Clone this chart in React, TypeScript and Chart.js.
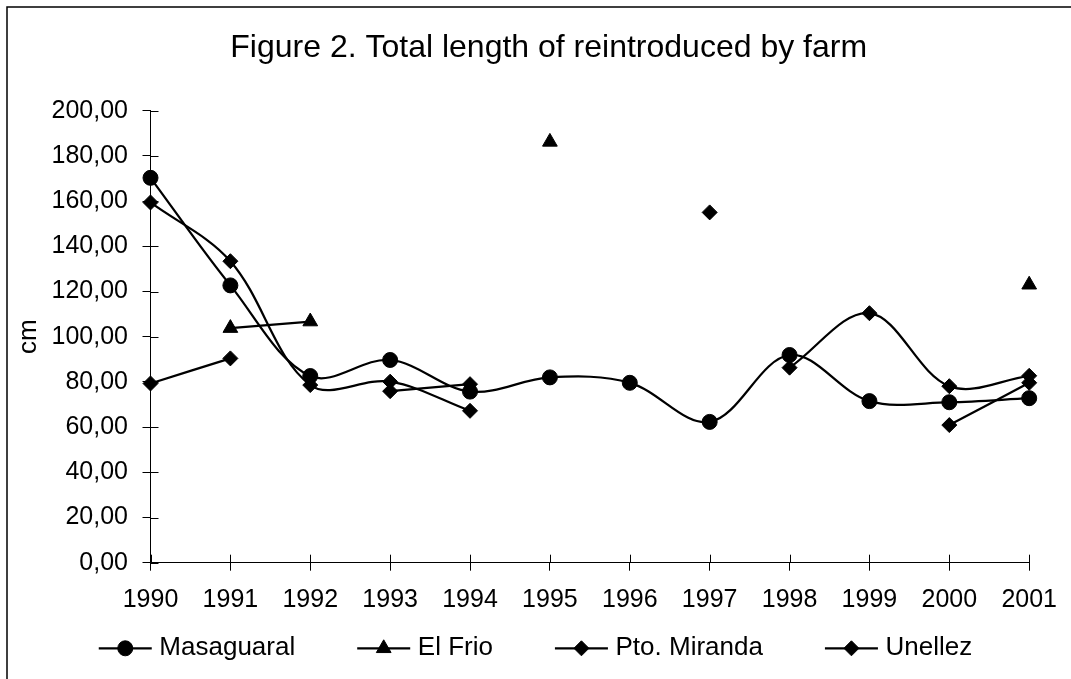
import React, { useEffect, useRef } from 'react';
import { Chart, registerables } from 'chart.js';

Chart.register(...registerables);

// ---------- data ----------
const years = ['1990', '1991', '1992', '1993', '1994', '1995', '1996', '1997', '1998', '1999', '2000', '2001'];
const masaguaral = [170.3, 122.7, 82.6, 89.7, 75.7, 82.0, 79.6, 62.3, 91.9, 71.5, 71.0, 72.8];
const elFrio = [null, 103.8, 106.7, null, null, 186.2, null, null, null, null, null, 123.0];
const ptoMiranda = [159.4, 133.4, 78.6, 80.1, 67.2, null, null, 155.0, null, null, 60.9, 79.6];
const unellez = [79.3, 90.4, null, 75.9, 79.0, null, null, null, 86.3, 110.4, 78.1, 82.7];
const seriesNames = ['Masaguaral', 'El Frio', 'Pto. Miranda', 'Unellez'];
const yMin = 0;
const yMax = 200;
const yStep = 20;
const titleText = 'Figure 2. Total length of reintroduced by farm';
const yAxisTitle = 'cm';

// ---------- styles ----------
const FONT = "'Liberation Sans', Arial, Helvetica, sans-serif";
const INK = '#000';

function drawMarker(ctx: CanvasRenderingContext2D, style: string, x: number, y: number, r: number) {
  ctx.beginPath();
  if (style === 'circle') {
    ctx.arc(x, y, r, 0, Math.PI * 2);
  } else if (style === 'triangle') {
    ctx.moveTo(x, y - r);
    ctx.lineTo(x + r * Math.sin((2 * Math.PI) / 3), y - r * Math.cos((2 * Math.PI) / 3));
    ctx.lineTo(x + r * Math.sin((4 * Math.PI) / 3), y - r * Math.cos((4 * Math.PI) / 3));
  } else {
    ctx.moveTo(x - r, y);
    ctx.lineTo(x, y - r);
    ctx.lineTo(x + r, y);
    ctx.lineTo(x, y + r);
  }
  ctx.closePath();
  ctx.fill();
  ctx.stroke();
}

const decorations = {
  id: 'decorations',
  beforeDatasetsDraw(chart: any) {
    const { ctx, chartArea, scales } = chart;
    ctx.save();
    ctx.strokeStyle = INK;
    ctx.lineWidth = 1;
    ctx.beginPath();
    const xs = scales.x;
    xs.ticks.forEach((_: any, i: number) => {
      const px = Math.round(xs.getPixelForTick(i)) + 0.5;
      ctx.moveTo(px, chartArea.bottom);
      ctx.lineTo(px, chartArea.bottom - 8);
    });
    const ys = scales.y;
    ys.ticks.forEach((_: any, i: number) => {
      const py = Math.round(ys.getPixelForTick(i)) + 0.5;
      ctx.moveTo(chartArea.left, py);
      ctx.lineTo(chartArea.left + 8, py);
    });
    ctx.stroke();
    // outer frame of the chart object
    ctx.lineWidth = 1.5;
    ctx.beginPath();
    ctx.moveTo(7, chart.height);
    ctx.lineTo(7, 7);
    ctx.lineTo(chart.width, 7);
    ctx.stroke();
    ctx.restore();
  },
  afterDraw(chart: any) {
    // legend: line with marker, then the label
    const { ctx } = chart;
    ctx.save();
    ctx.font = `26px ${FONT}`;
    ctx.textBaseline = 'middle';
    ctx.textAlign = 'left';
    const lineLen = 53;
    const textGap = 7.6;
    const itemGap = 62;
    const items = chart.data.datasets.map((ds: any) => ({
      label: ds.label,
      style: ds.pointStyle,
      r: ds.pointRadius,
      w: ctx.measureText(ds.label).width,
    }));
    const total = items.reduce((s: number, it: any) => s + lineLen + textGap + it.w, 0) + itemGap * (items.length - 1);
    let x = chart.width / 2 - total / 2;
    const y = 648.3;
    items.forEach((it: any) => {
      ctx.strokeStyle = INK;
      ctx.fillStyle = INK;
      ctx.lineWidth = 2.25;
      ctx.beginPath();
      ctx.moveTo(x, y);
      ctx.lineTo(x + lineLen, y);
      ctx.stroke();
      ctx.lineWidth = 1;
      drawMarker(ctx, it.style, x + lineLen / 2, y, it.r);
      ctx.fillText(it.label, x + lineLen + textGap, y);
      x += lineLen + textGap + it.w + itemGap;
    });
    ctx.restore();
  },
};

function makeDataset(label: string, data: (number | null)[], pointStyle: string, pointRadius: number) {
  return {
    label,
    data,
    borderColor: INK,
    backgroundColor: INK,
    borderWidth: 2.25,
    pointStyle,
    pointRadius,
    pointHoverRadius: pointRadius,
    pointBorderWidth: 1,
    pointBackgroundColor: INK,
    pointBorderColor: INK,
    tension: 0.35,
    spanGaps: false,
    clip: false,
  };
}

export default function App() {
  const ref = useRef<HTMLCanvasElement>(null);

  useEffect(() => {
    if (!ref.current) return;
    Chart.defaults.font.family = FONT;
    Chart.defaults.color = INK;
    const chart = new Chart(ref.current, {
      type: 'line',
      data: {
        labels: years,
        datasets: [
          makeDataset(seriesNames[0], masaguaral, 'circle', 7.5),
          makeDataset(seriesNames[1], elFrio, 'triangle', 8.5),
          makeDataset(seriesNames[2], ptoMiranda, 'rectRot', 7.5),
          makeDataset(seriesNames[3], unellez, 'rectRot', 7.5),
        ] as any,
      },
      options: {
        responsive: false,
        animation: false,
        events: [],
        layout: { padding: { left: 40, right: 13.6, top: 0, bottom: 50.3 } },
        plugins: {
          legend: { display: false },
          tooltip: { enabled: false },
          title: {
            display: true,
            text: titleText,
            color: INK,
            font: { size: 32, weight: 'normal', family: FONT },
            padding: { top: 29.3, bottom: 43 },
          },
        },
        scales: {
          x: {
            type: 'category',
            offset: false,
            grid: { display: true, drawOnChartArea: false, drawTicks: true, tickLength: 8, color: INK, lineWidth: 1 },
            border: { display: true, color: INK, width: 1 },
            ticks: { color: INK, font: { size: 25, family: FONT }, padding: 14, autoSkip: false, maxRotation: 0 },
            afterFit: (scale: any) => { scale.height = 66; },
          },
          y: {
            min: yMin,
            max: yMax,
            grid: { display: true, drawOnChartArea: false, drawTicks: true, tickLength: 8, color: INK, lineWidth: 1 },
            border: { display: true, color: INK, width: 1 },
            ticks: {
              stepSize: yStep,
              color: INK,
              font: { size: 25, family: FONT },
              padding: 14.5,
              callback: (v: any) => Number(v).toFixed(2).replace('.', ','),
            },
            title: {
              display: true,
              text: yAxisTitle,
              color: INK,
              font: { size: 26, family: FONT },
              padding: { top: -26.3, bottom: 0 },
            },
            afterFit: (scale: any) => { scale.width = 110.5; },
          },
          // empty right-hand margin of the plot (no ticks, no line)
          ySpacer: {
            type: 'linear',
            position: 'right',
            display: true,
            grid: { display: false, drawTicks: false },
            border: { display: false },
            ticks: { display: false },
            afterFit: (scale: any) => { scale.width = 25.9; },
          },
        },
      },
      plugins: [decorations],
    } as any);
    return () => chart.destroy();
  }, []);

  return (
    <div style={{ position: 'fixed', left: 0, top: 0, width: 1071, height: 679, background: '#fff' }}>
      <canvas ref={ref} width={1071} height={679} style={{ display: 'block', width: 1071, height: 679 }} />
    </div>
  );
}
